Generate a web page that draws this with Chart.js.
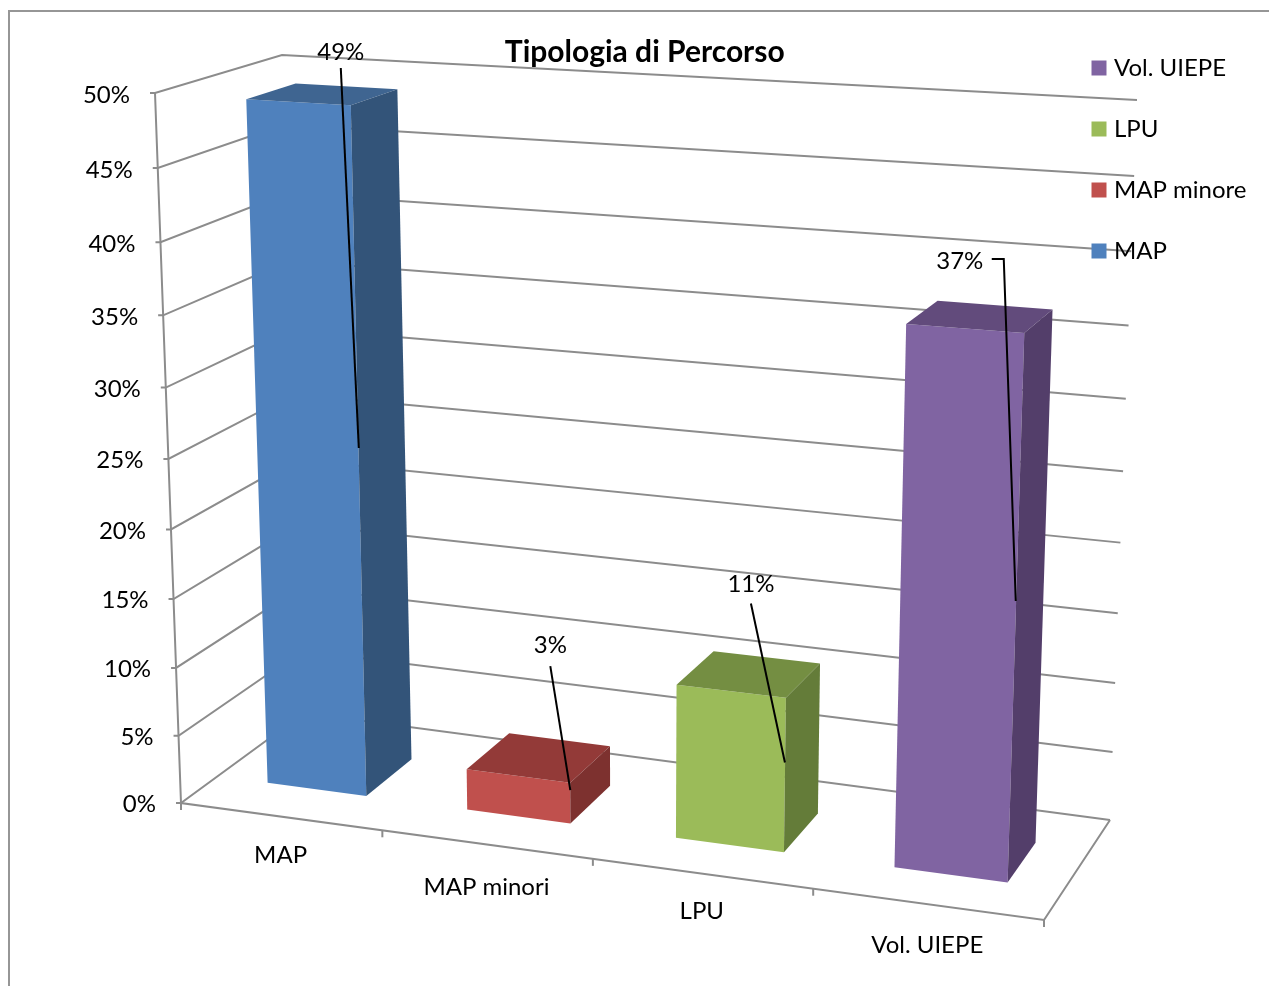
<!DOCTYPE html>
<html>
<head>
<meta charset="utf-8">
<title>Tipologia di Percorso</title>
<script src="https://cdn.jsdelivr.net/npm/chart.js@4/dist/chart.umd.min.js"></script>
<style>
  html, body { margin: 0; padding: 0; background: #fff; overflow: hidden; }
  #frame { position: absolute; left: 8px; top: 10px; width: 1300px; height: 1000px; border: 2px solid #969696; }
  canvas { position: absolute; left: 0; top: 0; }
</style>
</head>
<body>
<div id="frame"></div>
<canvas id="percorso" width="1269" height="986"></canvas>
<script>
"use strict";

var categories = ['MAP', 'MAP minori', 'LPU', 'Vol. UIEPE'];
var seriesNames = ['MAP', 'MAP minore', 'LPU', 'Vol. UIEPE'];
var values = [49, 3, 11, 37];
var frontColors = ['#4f81bd', '#c0504d', '#9bbb59', '#8064a2'];
var topColors = ['#3f6591', '#933a38', '#748e42', '#624b7c'];
var sideColors = ['#335479', '#7d312f', '#647c39', '#533e6a'];

// corners of the 3d plot box on the page: [x, y]
var box = {
    floorFrontLeft: [181, 803], floorFrontRight: [1044, 920], floorBackRight: [1110, 820], floorBackLeft: [304, 713],
    topFrontLeft: [155, 93], topFrontRight: [1070, 144], topBackRight: [1137, 100], topBackLeft: [282, 55]
};
var gridColor = '#8c8c8c';
var textFont = '24px Lato';
var barFront = 0.3, barBack = 0.7, barNudge = 0.0015;

// label offset from the leader line end, then leader line points relative to label
var labelOffsets = [[-18, -396], [-20, -145], [-34, -178], [-56, -340]];
var leaderStarts = [[[0, 16]], [[0, 21]], [[0, 19]], [[32, -2], [44, -2]]];
var categoryDrops = [39, 43, 38, 41];

function warp(t, w) {
    return w * t / (1 - t + w * t);
}

function mix(a, b, t) {
    return [a[0] + (b[0] - a[0]) * t, a[1] + (b[1] - a[1]) * t];
}

// nx, ny, nz all 0..1, perspective is faked by warping each axis
function project(nx, ny, nz) {
    var x = warp(nx, 0.913), y = warp(ny, 0.94), z = nz;
    var low = mix(mix(box.floorFrontLeft, box.floorFrontRight, x), mix(box.floorBackLeft, box.floorBackRight, x), z);
    var high = mix(mix(box.topFrontLeft, box.topFrontRight, x), mix(box.topBackLeft, box.topBackRight, x), z);
    return mix(low, high, y);
}

function poly(ctx, pts, fill) {
    ctx.beginPath();
    ctx.moveTo(pts[0][0], pts[0][1]);
    for (var i = 1; i < pts.length; i++) {
        ctx.lineTo(pts[i][0], pts[i][1]);
    }
    if (fill) {
        ctx.closePath();
        ctx.fillStyle = fill;
        ctx.fill();
    } else {
        ctx.stroke();
    }
}

function normX(chart, px) {
    return (px - chart.chartArea.left) / chart.chartArea.width;
}

function normY(chart, px) {
    return (chart.chartArea.bottom - px) / chart.chartArea.height;
}

var box3d = {
    id: 'box3d',
    afterLayout: function (chart) {
        // legend keeps its wide row padding but sits where the reference has it
        var pad = chart.options.plugins.legend.labels.padding;
        chart.legend.left = 1096 - pad;
        chart.legend.top = 19;
    },
    beforeDraw: function (chart) {
        var ctx = chart.ctx;
        var xs = chart.scales.x, ys = chart.scales.y;
        ctx.save();
        ctx.strokeStyle = gridColor;
        ctx.lineWidth = 2;
        ctx.fillStyle = '#000';
        ctx.font = textFont;
        ctx.textBaseline = 'middle';

        ys.ticks.forEach(function (tick) {
            var ny = normY(chart, ys.getPixelForValue(tick.value));
            var a = project(0, ny, 0), b = project(0, ny, 1), c = project(1, ny, 1);
            poly(ctx, [[a[0] - 5, a[1]], a, b, c]);
            ctx.textAlign = 'right';
            ctx.fillText(tick.label, a[0] - 25, a[1] + 1 + ny);
        });
        poly(ctx, [project(0, 1, 0), project(0, 0, 0), project(1, 0, 0), project(1, 0, 1)]);

        // tick marks sit between the categories
        for (var i = 0; i <= categories.length; i++) {
            var p = project(i / categories.length, 0, 0);
            poly(ctx, [p, [p[0], p[1] + 7]]);
        }
        xs.ticks.forEach(function (tick, i) {
            var p = project(normX(chart, xs.getPixelForValue(tick.value)), 0, 0);
            ctx.textAlign = 'center';
            ctx.fillText(tick.label, p[0], p[1] + categoryDrops[i]);
        });
        ctx.restore();
    },
    beforeDatasetDraw: function (chart, args) {
        var ctx = chart.ctx;
        var bar = args.meta.data[args.index];
        var l = normX(chart, bar.x - bar.width / 2) + barNudge, r = normX(chart, bar.x + bar.width / 2) + barNudge;
        var t = normY(chart, bar.y), b = normY(chart, bar.base);
        poly(ctx, [project(l, b, barFront), project(r, b, barFront), project(r, t, barFront), project(l, t, barFront)], frontColors[args.index]);
        poly(ctx, [project(l, t, barFront), project(r, t, barFront), project(r, t, barBack), project(l, t, barBack)], topColors[args.index]);
        poly(ctx, [project(r, b, barFront), project(r, b, barBack), project(r, t, barBack), project(r, t, barFront)], sideColors[args.index]);
        return false;
    },
    afterDatasetsDraw: function (chart) {
        var ctx = chart.ctx;
        ctx.save();
        ctx.strokeStyle = '#000';
        ctx.lineWidth = 2;
        ctx.fillStyle = '#000';
        ctx.font = textFont;
        ctx.textAlign = 'center';
        ctx.textBaseline = 'middle';
        chart.data.datasets.forEach(function (ds, i) {
            var bar = chart.getDatasetMeta(i).data[i];
            var r = normX(chart, bar.x + bar.width / 2) + barNudge;
            var mid = (normY(chart, bar.y) + normY(chart, bar.base)) / 2;
            var end = project(r, mid, barFront);
            end[1] -= 13;
            var lx = end[0] + labelOffsets[i][0], ly = end[1] + labelOffsets[i][1];
            var pts = leaderStarts[i].map(function (d) { return [lx + d[0], ly + d[1]]; });
            pts.push(end);
            poly(ctx, pts);
            ctx.fillText(values[i] + '%', lx, ly);
        });
        ctx.restore();
    }
};

var datasets = seriesNames.map(function (name, i) {
    return {
        label: name,
        data: categories.map(function (c, j) { return j === i ? values[i] : null; }),
        backgroundColor: frontColors[i],
        borderColor: frontColors[i],
        borderWidth: 9
    };
});

new Chart(document.getElementById('percorso'), {
    type: 'bar',
    data: { labels: categories, datasets: datasets },
    plugins: [box3d],
    options: {
        responsive: false,
        animation: false,
        layout: { padding: { left: 218 } },
        datasets: { bar: { categoryPercentage: 1, barPercentage: 0.5 } },
        scales: {
            x: { display: false, stacked: true },
            y: {
                display: false,
                stacked: true,
                min: 0,
                max: 50,
                ticks: { stepSize: 5, callback: function (v) { return v + '%'; } }
            }
        },
        plugins: {
            title: {
                display: true,
                text: 'Tipologia di Percorso',
                fullSize: false,
                color: '#000',
                font: { family: 'Lato', size: 30, weight: 'bold' },
                padding: { top: 34, bottom: 0 }
            },
            legend: {
                position: 'right',
                align: 'start',
                reverse: true,
                labels: {
                    boxWidth: 6,
                    boxHeight: 6,
                    padding: 37,
                    color: '#000',
                    font: { family: 'Lato', size: 24 }
                }
            },
            tooltip: { enabled: false }
        }
    }
});
</script>
</body>
</html>
